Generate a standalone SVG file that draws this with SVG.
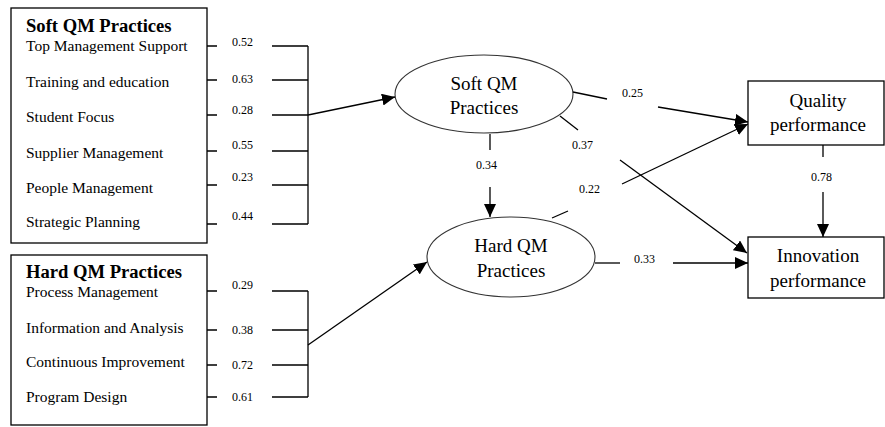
<svg xmlns="http://www.w3.org/2000/svg" width="885" height="427" viewBox="0 0 885 427">
<defs>
<style>
.box{fill:#fff;stroke:#000;stroke-width:1.3}
.ell{fill:#fff;stroke:#333;stroke-width:1.1}
.ln{fill:none;stroke:#000;stroke-width:1.3}
.hd{font-family:"Liberation Serif","Times New Roman",serif;font-size:18.6px;font-weight:bold;fill:#000}
.it{font-family:"Liberation Serif","Times New Roman",serif;font-size:15.5px;fill:#000}
.nm{font-family:"Liberation Serif","Times New Roman",serif;font-size:19px;fill:#000;text-anchor:middle}
.lb{font-family:"Liberation Serif","Times New Roman",serif;font-size:12px;fill:#000}
</style>
<marker id="ah" markerUnits="userSpaceOnUse" markerWidth="14" markerHeight="12" refX="13" refY="6" orient="auto">
<path d="M0,0 L13,6 L0,12 Z" fill="#000"/>
</marker>
</defs>
<rect width="885" height="427" fill="#fff"/>

<g id="soft-box">
<rect class="box" x="11" y="8" width="196" height="235"/>
<text class="hd" x="26" y="32">Soft QM Practices</text>
<text class="it" x="26" y="51">Top Management Support</text>
<text class="it" x="26" y="87">Training and education</text>
<text class="it" x="26" y="122">Student Focus</text>
<text class="it" x="26" y="158">Supplier Management</text>
<text class="it" x="26" y="193">People Management</text>
<text class="it" x="26" y="227">Strategic Planning</text>
</g>

<g id="hard-box">
<rect class="box" x="11" y="255" width="196" height="170"/>
<text class="hd" x="26" y="278">Hard QM Practices</text>
<text class="it" x="26" y="297">Process Management</text>
<text class="it" x="26" y="333">Information and Analysis</text>
<text class="it" x="26" y="367">Continuous Improvement</text>
<text class="it" x="26" y="402">Program Design</text>
</g>

<g id="soft-qm">
<ellipse class="ell" cx="484" cy="94" rx="89" ry="39"/>
<text class="nm" x="484" y="90">Soft QM</text>
<text class="nm" x="484" y="114">Practices</text>
</g>

<g id="hard-qm">
<ellipse class="ell" cx="511" cy="257" rx="84" ry="40"/>
<text class="nm" x="511" y="252">Hard QM</text>
<text class="nm" x="511" y="277">Practices</text>
</g>

<g id="quality">
<rect class="box" x="748" y="81" width="136" height="64"/>
<text class="nm" x="818" y="107">Quality</text>
<text class="nm" x="818" y="131">performance</text>
</g>

<g id="innovation">
<rect class="box" x="748" y="237" width="136" height="61"/>
<text class="nm" x="818" y="262">Innovation</text>
<text class="nm" x="818" y="287">performance</text>
</g>

<g id="connectors">
<path class="ln" d="M207,46H217M207,80H217M207,115H217M207,151H217M207,185H217M207,224H217"/>
<path class="ln" d="M272,46H308M272,80H308M272,115H308M272,151H308M272,185H308M272,224H308M308,46V224"/>
<text class="lb" x="232" y="46">0.52</text>
<text class="lb" x="232" y="83">0.63</text>
<text class="lb" x="232" y="114">0.28</text>
<text class="lb" x="232" y="149">0.55</text>
<text class="lb" x="232" y="181">0.23</text>
<text class="lb" x="232" y="220">0.44</text>
<line class="ln" x1="308" y1="115" x2="395" y2="97" marker-end="url(#ah)"/>

<path class="ln" d="M207,291H217M207,330H217M207,365H217M207,397H217"/>
<path class="ln" d="M272,291H308M272,330H308M272,365H308M272,397H308M308,291V397"/>
<text class="lb" x="232" y="289">0.29</text>
<text class="lb" x="232" y="334">0.38</text>
<text class="lb" x="232" y="369">0.72</text>
<text class="lb" x="232" y="401">0.61</text>
<line class="ln" x1="308" y1="345" x2="427" y2="262" marker-end="url(#ah)"/>

<line class="ln" x1="490" y1="134" x2="490" y2="150"/>
<text class="lb" x="476" y="169">0.34</text>
<line class="ln" x1="490" y1="187" x2="490" y2="217" marker-end="url(#ah)"/>

<line class="ln" x1="573" y1="92" x2="607" y2="99"/>
<text class="lb" x="622" y="97">0.25</text>
<line class="ln" x1="658" y1="107" x2="748" y2="122" marker-end="url(#ah)"/>

<line class="ln" x1="560" y1="116" x2="578" y2="130"/>
<text class="lb" x="572" y="149">0.37</text>
<line class="ln" x1="620" y1="160" x2="747" y2="253" marker-end="url(#ah)"/>

<line class="ln" x1="552" y1="218" x2="568" y2="211"/>
<text class="lb" x="579" y="193">0.22</text>
<line class="ln" x1="622" y1="184" x2="748" y2="124" marker-end="url(#ah)"/>

<line class="ln" x1="595" y1="263" x2="620" y2="263"/>
<text class="lb" x="634" y="263">0.33</text>
<line class="ln" x1="673" y1="263" x2="748" y2="263" marker-end="url(#ah)"/>

<line class="ln" x1="823" y1="145" x2="823" y2="157"/>
<text class="lb" x="811" y="181">0.78</text>
<line class="ln" x1="823" y1="192" x2="823" y2="237" marker-end="url(#ah)"/>
</g>
</svg>
